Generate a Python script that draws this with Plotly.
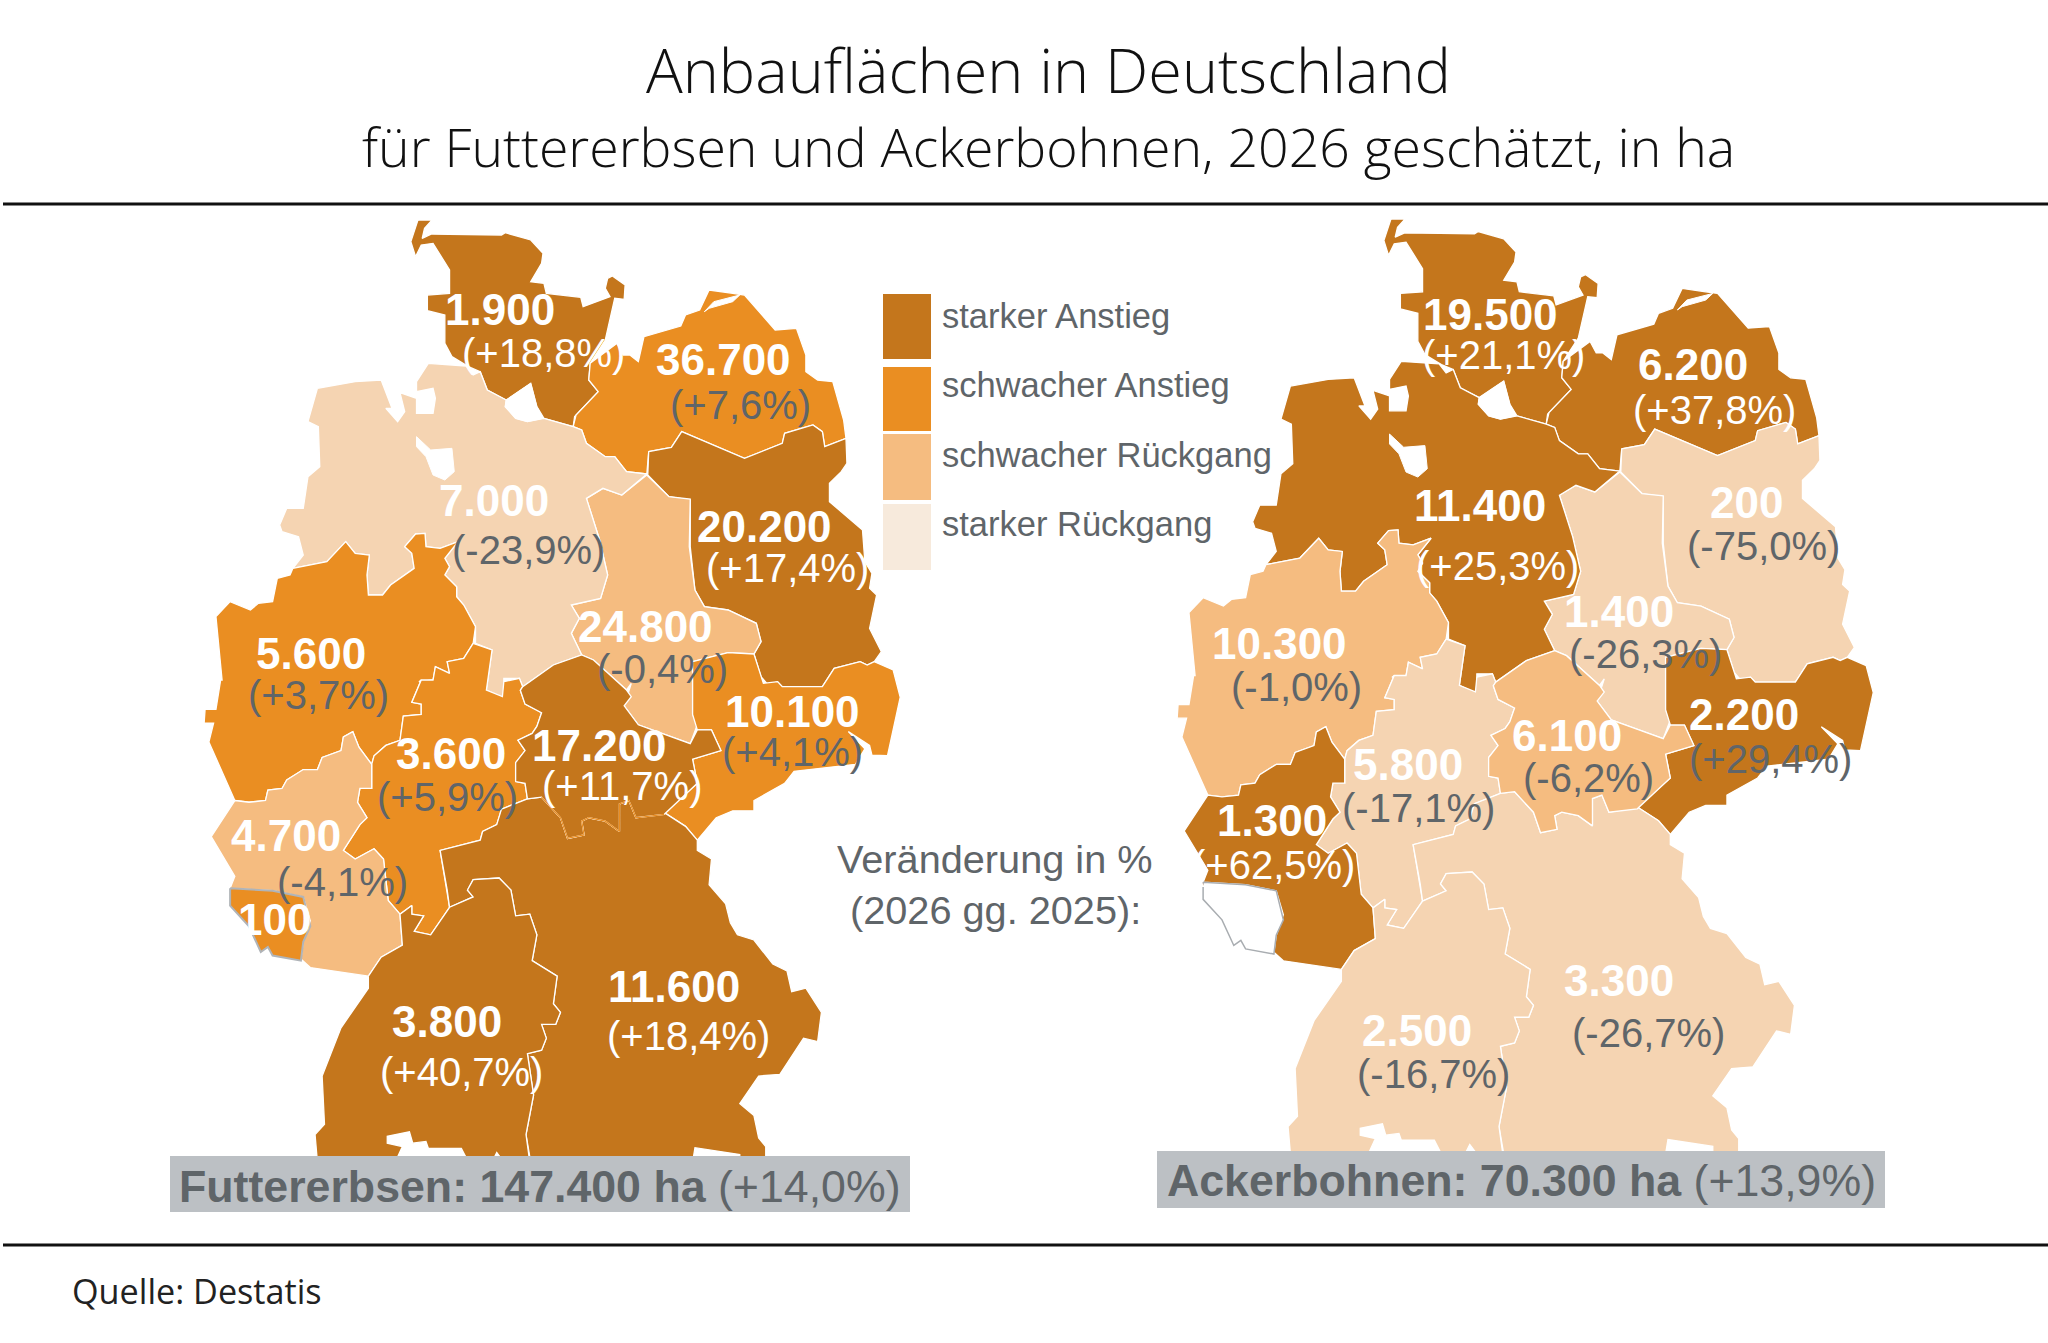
import plotly.graph_objects as go

# ------------------ data ------------------
states = ["SH", "MV", "BB", "ST", "SN", "TH", "NI", "NW", "HE", "RP", "SL", "BY", "BW"]
erbsen_area = ["1.900", "36.700", "20.200", "24.800", "10.100", "17.200", "7.000", "5.600", "3.600", "4.700", "100", "11.600", "3.800"]
erbsen_change = [18.8, 7.6, 17.4, -0.4, 4.1, 11.7, -23.9, 3.7, 5.9, -4.1, None, 18.4, 40.7]
bohnen_area = ["19.500", "6.200", "200", "1.400", "2.200", "6.100", "11.400", "10.300", "5.800", "1.300", None, "3.300", "2.500"]
bohnen_change = [21.1, 37.8, -75.0, -26.3, 29.4, -6.2, 25.3, -1.0, -17.1, 62.5, None, -26.7, -16.7]
legend_labels = ["starker Anstieg", "schwacher Anstieg", "schwacher Rückgang", "starker Rückgang"]
title_text = "Anbauflächen in Deutschland"
subtitle_text = "für Futtererbsen und Ackerbohnen, 2026 geschätzt, in ha"
source_text = "Quelle: Destatis"
note_lines = ["Veränderung in %", "(2026 gg. 2025):"]
erbsen_total = ("Futtererbsen: 147.400 ha", "(+14,0%)")
bohnen_total = ("Ackerbohnen: 70.300 ha", "(+13,9%)")

# colours
DARK, ORANGE, MID, PALE, LEG_PALE = "#c4761c", "#ea8e22", "#f5bc80", "#f5d4b2", "#f7eadc"
GREY, BANNER = "#5f6569", "#bcc0c4"


def A(*pts):  # outline points read in the upper map crop
    return [(190 + x / 2.119, 200 + y / 3.0) for x, y in pts]


def B(*pts):  # outline points read in the lower map crop
    return [(190 + x / 2.119, 680 + y / 2.904) for x, y in pts]


# ------------------ outlines of the federal states ------------------
SH = A((483,60),(513,60),(497,85),(492,115),(512,102),(660,105),(668,98),(722,120),(748,160),(745,190),(722,245),(750,250),(755,280),(828,292),(833,320),(890,290),(880,265),(885,235),(895,228),(922,255),(920,298),(900,295),(880,420),(848,490),(845,540),(865,575),(815,650),(812,680),(750,655),(735,620),(722,550),(670,600),(630,570),(615,515),(590,500),(555,470),(540,430),(540,345),(503,332),(503,285),(550,280),(550,210),(515,130),(490,135),(478,170),(468,125))
MV = A((812,680),(818,645),(865,575),(845,540),(848,490),(905,430),(918,465),(932,465),(950,485),(962,410),(1040,378),(1050,345),(1080,330),(1100,270),(1150,280),(1175,285),(1240,390),(1285,385),(1305,465),(1305,515),(1330,540),(1362,545),(1375,610),(1385,660),(1390,715),(1345,740),(1340,695),(1320,675),(1260,700),(1255,730),(1175,775),(1042,695),(1020,742),(972,755),(968,822),(925,815),(900,770),(880,770),(840,730),(830,690))
BB = A((972,755),(1020,742),(1042,695),(1175,775),(1255,730),(1260,700),(1320,675),(1340,695),(1345,740),(1390,715),(1392,790),(1380,815),(1355,850),(1355,905),(1425,990),(1430,1085),(1445,1120),(1440,1165),(1455,1185),(1440,1285),(1465,1355),(1450,1385),(1435,1395),(1420,1385),(1365,1405),(1340,1460),(1255,1460),(1245,1445),(1225,1455),(1210,1430),(1195,1362),(1210,1325),(1200,1270),(1140,1230),(1090,1220),(1070,1170),(1060,1040),(1060,900),(1015,890),(970,825))
ST = A((968,825),(1015,890),(1060,897),(1058,1040),(1070,1170),(1090,1220),(1140,1230),(1200,1270),(1210,1325),(1195,1362),(1140,1358),(1065,1385)) + B((1065,100),(1075,130),(1060,185),(1010,160),(950,130),(920,75),(935,10)) + A((925,1470),(855,1380),(830,1365),(808,1300),(825,1255),(808,1215),(870,1195),(885,1125),(868,1020),(840,895),(875,865),(915,885))
SN = A((1065,1385),(1140,1358),(1195,1362),(1215,1450),(1245,1445),(1255,1460),(1340,1460),(1365,1405),(1420,1385),(1435,1395),(1450,1385),(1490,1410)) + B((1505,50),(1478,220),(1445,218),(1440,190),(1395,150),(1430,200),(1410,245),(1280,265),(1260,300),(1235,320),(1195,350),(1195,380),(1150,380),(1115,400),(1075,465),(1050,425),(1005,385),(1075,300),(1065,230),(1125,205),(1105,145),(1075,145),(1065,100))
TH = A((705,1460),(770,1395),(830,1365),(855,1380),(925,1470),(935,1490)) + B((920,75),(950,130),(1010,160),(1060,185),(1075,145),(1105,145),(1125,205),(1065,230),(1075,300),(1005,390),(945,400),(930,350),(910,360),(910,440),(880,410),(845,400),(830,410),(835,450),(800,460),(785,400),(745,340),(715,345),(710,300),(690,295),(690,240),(710,205),(695,175),(725,155),(735,135),(745,95),(710,70),(700,30))
NI = A((270,565),(350,545),(405,540),(428,625),(415,625),(440,665),(455,635),(445,578),(480,595),(480,640),(515,640),(520,595),(515,565),(480,575),(480,545),(505,490),(585,498),(600,525),(615,515),(630,570),(670,600),(668,620),(690,655),(715,665),(750,655),(812,680),(830,690),(840,730),(880,770),(900,770),(925,815),(968,822),(915,885),(875,865),(840,895),(868,1020),(885,1125),(870,1195),(808,1215),(825,1255),(808,1300),(830,1365),(770,1395),(705,1460),(698,1435),(665,1435),(665,1495),(628,1470),(640,1350),(605,1330),(605,1280),(580,1215),(565,1190),(565,1160),(540,1125),(550,1100),(540,1075),(568,1025),(530,1045),(500,1040),(498,1000),(478,1002),(455,1040),(470,1060),(475,1105),(425,1155),(408,1185),(378,1185),(375,1125),(380,1065),(350,1060),(330,1025),(290,1085),(218,1105),(240,1065),(230,1010),(195,995),(190,975),(205,925),(240,925),(250,830),(275,800),(272,680),(250,665))
NW = A((218,1105),(290,1085),(330,1025),(350,1060),(380,1065),(375,1125),(378,1185),(408,1185),(425,1155),(475,1105),(470,1060),(455,1040),(478,1002),(498,1000),(500,1040),(530,1045),(568,1025),(540,1075),(550,1100),(540,1125),(565,1160),(565,1190),(580,1215),(605,1280),(600,1330),(580,1375),(545,1385),(550,1420),(520,1400),(515,1440),(485,1445)) + B((490,0),(470,65),(490,70),(490,100),(452,105),(445,175),(415,190),(390,220),(385,245),(358,195),(345,150),(325,165),(320,205),(280,225),(270,260),(240,260),(205,290),(195,315),(165,320),(160,350),(125,355),(95,350),(40,180),(50,125),(30,125),(32,85),(55,85),(65,0)) + A((68,1440),(55,1250),(85,1205),(128,1230),(145,1210),(175,1205),(185,1135),(212,1125))
HE = A((600,1330),(640,1350),(628,1470)) + B((662,48),(665,5)) + A((698,1435),(705,1460)) + B((700,30),(710,70),(745,95),(735,135),(725,155),(695,175),(710,205),(690,240),(690,295),(710,300),(715,345),(660,375),(650,420),(620,440),(615,465),(530,495),(545,610),(550,660),(510,740),(475,730),(495,685),(470,680),(470,655),(455,670),(445,680),(420,640),(410,520),(390,490),(350,520),(325,495),(360,420),(375,400),(355,355),(360,315),(385,315),(385,245),(390,220),(415,190),(445,175),(452,105),(490,100),(490,70),(470,65),(490,0)) + A((515,1440),(520,1400),(550,1420),(545,1385),(580,1375))
RP = B((95,350),(125,355),(160,350),(165,320),(195,315),(205,290),(240,260),(270,260),(280,225),(320,205),(325,165),(345,150),(358,195),(385,245),(385,315),(360,315),(355,355),(375,400),(360,420),(325,495),(350,520),(390,490),(410,520),(420,640),(445,680),(450,770),(405,805),(378,860),(255,835),(235,810),(240,760),(255,700),(240,630),(175,612),(85,605),(95,570),(45,455))
SL = B((85,605),(175,612),(240,630),(255,715),(240,760),(235,815),(175,800),(165,775),(150,790),(125,715),(85,655))
BY = B((1005,385),(1050,425),(1075,465),(1075,495),(1105,520),(1100,595),(1135,650),(1145,705),(1160,740),(1195,755),(1235,825),(1265,845),(1275,905),(1305,895),(1338,965),(1330,1050),(1300,1040),(1250,1145),(1205,1150),(1165,1230),(1195,1265),(1205,1330),(1220,1355),(1220,1400),(1165,1400),(1165,1378),(1070,1358),(1065,1400),(722,1400),(720,1385),(712,1320),(728,1205),(715,1085),(745,1075),(755,1040),(745,1000),(775,1000),(785,965),(770,940),(778,860),(725,815),(735,740),(720,680),(690,685),(680,610),(655,575),(600,580),(588,610),(600,630),(550,660),(545,610),(530,495),(615,465),(620,440),(650,420),(660,375),(715,345),(745,340),(785,400),(800,460),(835,450),(830,410),(845,400),(880,410),(910,440),(910,360),(930,350),(945,400))
BW = B((378,860),(405,805),(450,770),(445,680),(470,655),(470,680),(495,685),(475,730),(510,740),(550,660),(600,630),(588,610),(600,580),(655,575),(680,610),(690,685),(720,680),(735,740),(725,815),(778,860),(770,940),(785,965),(775,1000),(745,1000),(755,1040),(745,1075),(715,1085),(728,1205),(712,1320),(720,1400),(665,1400),(650,1372),(640,1400),(590,1400),(575,1360),(505,1360),(500,1340),(472,1345),(465,1312),(418,1325),(418,1345),(450,1355),(435,1400),(270,1400),(265,1320),(285,1290),(280,1150),(320,1010),(378,895))
outlines = [SH, MV, BB, ST, SN, NI, NW, HE, RP, SL, BY, BW, TH]
outline_names = ["SH", "MV", "BB", "ST", "SN", "NI", "NW", "HE", "RP", "SL", "BY", "BW", "TH"]
hamburg = A((722,550),(735,620),(748,655),(715,665),(690,655),(668,620),(670,600))
bremen = A((480,710),(510,750),(555,745),(560,815),(540,840),(515,825),(500,770),(480,740))
ruegen_gap = A((1090,335),(1110,305),(1165,285),(1150,305),(1100,325))
holes = [hamburg, bremen, ruegen_gap]
thuringia_south = B((745,340),(785,400),(800,460),(835,450),(830,410),(845,400),(880,410),(910,440),(910,360),(930,350),(945,400),(1005,390))

# label centres in picture pixels: (value, change)
P = 1.306
erbsen_pos = {"SH": ((383,237),(416,270)), "MV": ((554,275),(567,310)), "BB": ((585,403),(603,435)), "ST": ((494,480),(507,512)), "SN": ((607,545),(607,576)), "TH": ((459,571),(476,602)), "NI": ((378,383),(405,421)), "NW": ((238,500),(244,532)), "HE": ((345,577),(343,610)), "RP": ((219,640),(262,675)), "SL": ((210,704),None), "BY": ((516,755),(527,793)), "BW": ((342,782),(353,821))}
bohnen_pos = {"SH": ((1141,241),(1151,272)), "MV": ((1296,279),(1313,314)), "BB": ((1337,385),(1350,418)), "ST": ((1240,468),(1260,501)), "SN": ((1335,547),(1356,581)), "TH": ((1200,563),(1216,596)), "NI": ((1133,387),(1147,433)), "NW": ((980,493),(993,526)), "HE": ((1078,585),(1086,619)), "RP": ((974,628),(975,662)), "BY": ((1240,751),(1262,791)), "BW": ((1085,789),(1098,822))}


def shade(change, name):
    if change is None:
        return ORANGE if name == "SL" else "#ffffff"
    if change >= 10:
        return DARK
    if change >= 0:
        return ORANGE
    if change >= -10:
        return MID
    return PALE


def pct(change):
    return ("(%+.1f%%)" % change).replace(".", ",")


fig = go.Figure()


def place(points, right):
    xs = [p[0] + (973 if right else 0) for p in points]
    ys = [219 + (p[1] - 220) * 0.9924 if right else p[1] for p in points]
    return xs, ys


def poly(points, fill, line="#ffffff", width=1.3, right=False):
    xs, ys = place(points, right)
    fig.add_trace(go.Scatter(x=xs + xs[:1], y=ys + ys[:1], mode="lines", fill="toself",
                             fillcolor=fill, line=dict(color=line, width=width),
                             hoverinfo="skip", showlegend=False))


for right, change_list in ((False, erbsen_change), (True, bohnen_change)):
    for name, pts in zip(outline_names, outlines):
        ch = change_list[states.index(name)]
        if name == "SL":
            if right:
                poly(pts, "#ffffff", "#a9adb1", 1.5, right=True)
            else:
                poly(pts, ORANGE, "#b0b4b8", 2, right=False)
        else:
            poly(pts, shade(ch, name), right=right)
    for h in holes:
        poly(h, "#ffffff", "#ffffff", 1, right=right)

# the Thuringia / Bavaria border of the left map is a thin orange line
sx, sy = place(thuringia_south, False)
fig.add_trace(go.Scatter(x=sx, y=sy, mode="lines", line=dict(color=ORANGE, width=1.2),
                         hoverinfo="skip", showlegend=False))

ann = []


def text(x, y, s, size, color, font="Liberation Sans", anchor="center", weight=None):
    f = dict(family=font, size=size, color=color)
    if weight:
        f["weight"] = weight
    ann.append(dict(x=x, y=y, text=s, xref="x", yref="y", showarrow=False, xanchor=anchor, yanchor="middle", font=f))


for areas, changes, pos in ((erbsen_area, erbsen_change, erbsen_pos), (bohnen_area, bohnen_change, bohnen_pos)):
    for st, a, c in zip(states, areas, changes):
        if a is None:
            continue
        pv, pc = pos[st]
        text(pv[0] * P, pv[1] * P, "<b>%s</b>" % a, 44, "#ffffff")
        if c is not None:
            text(pc[0] * P, pc[1] * P, pct(c), 40, "#ffffff" if c >= 10 and not (st == "SN") else GREY)

text(1048, 69, title_text, 61.2, "#111111", "Open Sans", weight=300)
text(1048, 146, subtitle_text, 53.6, "#111111", "Open Sans", weight=300)
text(70, 1290, source_text, 34.2, "#222222", "Open Sans", "left")
text(995, 859, note_lines[0], 39.7, GREY)
text(995, 910, note_lines[1], 39.7, GREY)
text(540, 1186, "<b>%s</b> %s" % erbsen_total, 44.7, GREY)
text(1521, 1180, "<b>%s</b> %s" % bohnen_total, 44.7, GREY)

legend_y = [316, 385, 455, 524]
for lab, yy in zip(legend_labels, legend_y):
    text(939.5, yy, lab, 34.5, GREY, anchor="left")

shapes = [
    dict(type="line", x0=3, x1=2048, y0=204, y1=204, line=dict(color="#111111", width=3)),
    dict(type="line", x0=3, x1=2048, y0=1245, y1=1245, line=dict(color="#111111", width=3)),
    dict(type="rect", x0=170, x1=910, y0=1156, y1=1212, fillcolor=BANNER, line=dict(width=0), layer="above"),
    dict(type="rect", x0=1157, x1=1885, y0=1151, y1=1208, fillcolor=BANNER, line=dict(width=0), layer="above"),
]
for col, (y0, y1) in zip([DARK, ORANGE, MID, LEG_PALE], [(294, 359), (367, 431), (434, 500), (504, 570)]):
    shapes.append(dict(type="rect", x0=883, x1=931, y0=y0, y1=y1, fillcolor=col, line=dict(width=0)))

fig.update_layout(
    width=2048, height=1343, margin=dict(l=0, r=0, t=0, b=0),
    paper_bgcolor="#ffffff", plot_bgcolor="#ffffff", showlegend=False,
    xaxis=dict(range=[0, 2048], visible=False, fixedrange=True),
    yaxis=dict(range=[1343, 0], visible=False, fixedrange=True),
    shapes=shapes, annotations=ann,
)
fig.write_html("out.html", post_script="document.body.style.margin='0';document.documentElement.style.overflow='hidden';",
               config={"displayModeBar": False})
